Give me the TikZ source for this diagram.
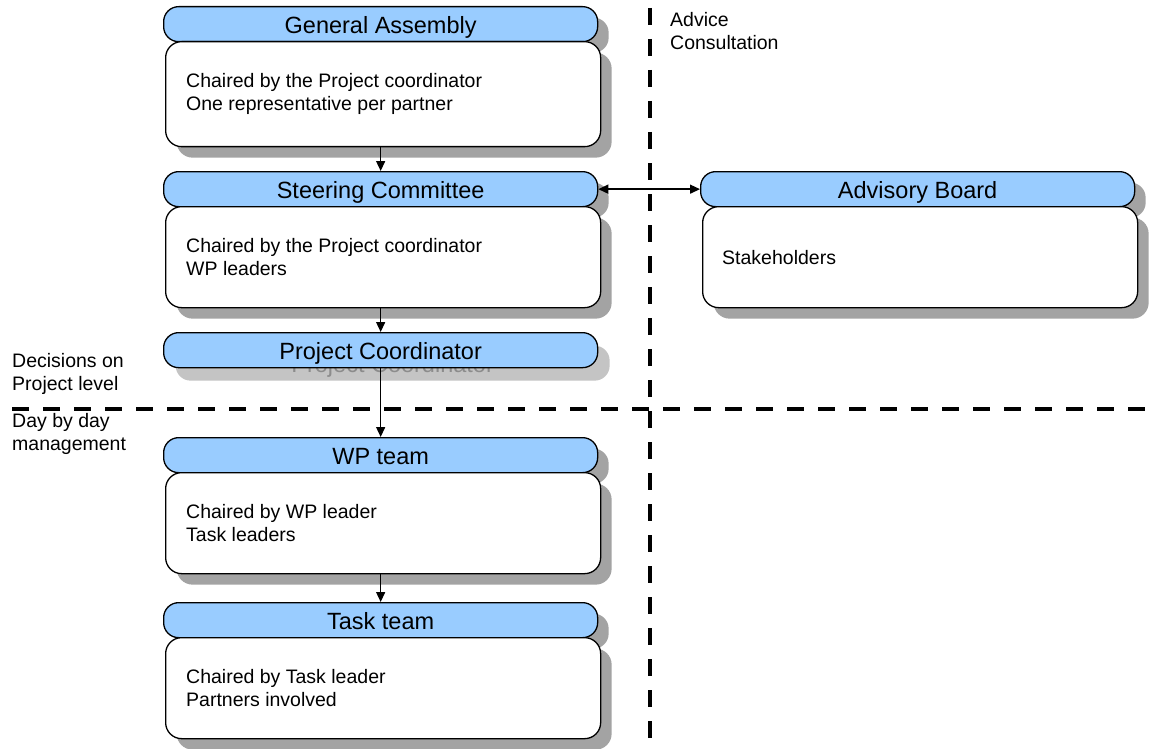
\documentclass[tikz,border=0pt]{standalone}
\usepackage{fontspec}
\setmainfont{Liberation Sans}
\usetikzlibrary{arrows.meta,shadows,calc}
\definecolor{headblue}{RGB}{153,204,255}
\definecolor{shadowgrey}{RGB}{163,163,163}
\definecolor{pcshade}{RGB}{196,196,196}
\definecolor{pcshadetext}{RGB}{140,140,140}

\begin{document}
\begin{tikzpicture}[x=1pt,y=-1pt,
  boxshadow/.style={drop shadow={shadow xshift=11pt,shadow yshift=-11pt,fill=shadowgrey,opacity=1}},
  headbox/.style={draw=black, line width=1.3pt, fill=headblue, rounded corners=15pt,
    minimum width=434pt, minimum height=35pt, inner sep=0pt, anchor=north west,
    font=\fontsize{23.5}{27}\selectfont, text height=19pt, text depth=0pt},
  bodybox/.style={draw=black, line width=1.3pt, fill=white, rounded corners=16pt,
    minimum width=435pt, minimum height=101pt, inner sep=0pt, anchor=north west},
  bodytext/.style={anchor=west, align=left, inner sep=0pt, font=\fontsize{19.5}{23}\selectfont},
  sidetext/.style={anchor=north west, align=left, inner sep=0pt, font=\fontsize{19.5}{23.5}\selectfont},
  sep/.style={line width=4.5pt, dash pattern=on 17pt off 14pt},
  link/.style={line width=1.4pt, -{Triangle[length=10pt,width=9pt]}},
  biLink/.style={line width=1.4pt, {Triangle[length=10pt,width=9pt]}-{Triangle[length=10pt,width=9pt]}},
]
\useasboundingbox[fill=white] (0,0) rectangle (1151,749);

% separators between decision levels and advisory side
\draw[sep] (650,8) -- (650,749);
\draw[sep] (12,409) -- (1151,409);

% side labels
\node[sidetext] (decisions) at (12,353) {Decisions on\\Project level};
\node[sidetext] (daybyday) at (12,413) {Day by day\\management};
\node[sidetext] (advice) at (670,12) {Advice\\Consultation};

% General Assembly
\node[headbox, boxshadow] (gahead) at (163,6) {General Assembly};
\node[bodybox, boxshadow, minimum height=105pt] (gabody) at (165,41) {};
\node[bodytext] (gatext) at ($(gabody.west)+(21,0)$) {Chaired by the Project coordinator\\One representative per partner};

% Steering Committee
\node[headbox, boxshadow] (schead) at (163,171) {Steering Committee};
\node[bodybox, boxshadow] (scbody) at (165,206) {};
\node[bodytext] (sctext) at ($(scbody.west)+(21,0)$) {Chaired by the Project coordinator\\WP leaders};

% Advisory Board
\node[headbox, boxshadow] (abhead) at (700,171) {Advisory Board};
\node[bodybox, boxshadow] (abbody) at (702,206) {};
\node[bodytext] (abtext) at ($(abbody.west)+(20,0)$) {Stakeholders};

% Project Coordinator with its pale shadow
\node[headbox, draw=none, fill=pcshade, text=pcshadetext] (pcshadow) at (175,345) {Project Coordinator};
\node[headbox] (pchead) at (163,332) {Project Coordinator};

% WP team
\node[headbox, boxshadow] (wphead) at (163,437) {WP team};
\node[bodybox, boxshadow] (wpbody) at (165,472) {};
\node[bodytext] (wptext) at ($(wpbody.west)+(21,0)$) {Chaired by WP leader\\Task leaders};

% Task team
\node[headbox, boxshadow] (taskhead) at (163,602) {Task team};
\node[bodybox, boxshadow] (taskbody) at (165,637) {};
\node[bodytext] (tasktext) at ($(taskbody.west)+(21,0)$) {Chaired by Task leader\\Partners involved};

% reporting lines
\draw[link] (gabody.south -| gahead.south) -- (schead.north);
\draw[link] (scbody.south -| schead.south) -- (pchead.north);
\draw[link] (pchead.south) -- (wphead.north);
\draw[link] (wpbody.south -| wphead.south) -- (taskhead.north);
\draw[biLink] (schead.east) -- (abhead.west);
\end{tikzpicture}
\end{document}
